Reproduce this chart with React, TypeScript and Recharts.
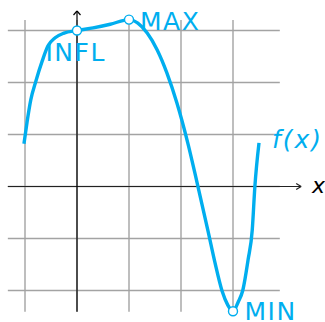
import { LineChart, Line, XAxis, YAxis, ReferenceLine, ReferenceDot } from 'recharts'

// f(x) sampled along the curve
const curveX = [-1.02, -0.96, -0.89, -0.79, -0.67, -0.56, -0.42, -0.25, 0, 0.31, 0.64, 1.0, 1.17, 1.35, 1.54, 1.73, 1.92, 2.13, 2.31, 2.52, 2.65, 2.79, 2.9, 3.0, 3.1, 3.19, 3.29, 3.37, 3.42, 3.5]
const curveY = [0.82, 1.24, 1.66, 2.03, 2.41, 2.7, 2.86, 2.95, 3.0, 3.05, 3.12, 3.21, 3.14, 2.95, 2.63, 2.18, 1.61, 0.84, 0.07, -0.86, -1.45, -2.01, -2.28, -2.4, -2.22, -1.99, -1.41, -0.84, -0.01, 0.84]

// stationary / inflection points
const pointNames = ['INFL', 'MAX', 'MIN']
const pointX = [0, 1, 3]
const pointY = [3.0, 3.21, -2.4]

const gridX = [-1, 0, 1, 2, 3]
const gridY = [-2, -1, 0, 1, 2, 3]

const data = curveX.map((x, i) => ({ x, y: curveY[i] }))

const W = 325
const H = 322
// 52px per unit, origin at (77, 186.5)
const UNIT = 52
const OX = 77
const OY = 186.5
const xDomain = [-OX / UNIT, (W - OX) / UNIT]
const yDomain = [(OY - H) / UNIT, OY / UNIT]

const GRID_LEFT = -1.33
const GRID_RIGHT = 3.9
const GRID_TOP = 3.2
const GRID_BOTTOM = -2.41
const AXIS_X_END = 4.31
const AXIS_Y_END = 3.375

const BLUE = '#00aeef'
const GRID = '#a3a3a3'
const FONT = '"DejaVu Sans", sans-serif'

const labelOffsets: Record<string, [number, number]> = {
  INFL: [-31.5, 30.5],
  MAX: [11, 10.5],
  MIN: [11.5, 8.5],
}

function textLabel(text: string, dx: number, dy: number, extra: Record<string, any>) {
  return (props: any) => {
    const vb = props.viewBox ?? { x: 0, y: 0, width: 0, height: 0 }
    const cx = vb.x + (vb.width ?? 0) / 2
    const cy = vb.y + (vb.height ?? 0) / 2
    return (
      <text x={cx + dx} y={cy + dy} fontFamily={FONT} {...extra}>
        {text}
      </text>
    )
  }
}

export default function App() {
  return (
    <div style={{ width: W, height: H }}>
      <style>{'body{margin:0}'}</style>
      <LineChart width={W} height={H} data={data} margin={{ top: 0, right: 0, bottom: 0, left: 0 }}>
        <XAxis type="number" dataKey="x" domain={xDomain} allowDataOverflow hide />
        <YAxis type="number" domain={yDomain} allowDataOverflow hide />

        {gridY.map(v => (
          <ReferenceLine key={'gy' + v} segment={[{ x: GRID_LEFT, y: v }, { x: GRID_RIGHT, y: v }]} stroke={GRID} strokeWidth={1.4} />
        ))}
        {gridX.map(v => (
          <ReferenceLine key={'gx' + v} segment={[{ x: v, y: GRID_BOTTOM }, { x: v, y: GRID_TOP }]} stroke={GRID} strokeWidth={1.4} />
        ))}

        {/* axes with arrow heads */}
        <ReferenceLine segment={[{ x: GRID_LEFT, y: 0 }, { x: AXIS_X_END, y: 0 }]} stroke="#222" strokeWidth={1.2} />
        <ReferenceLine segment={[{ x: AXIS_X_END - 0.095, y: 0.058 }, { x: AXIS_X_END, y: 0 }]} stroke="#222" strokeWidth={1.2} />
        <ReferenceLine segment={[{ x: AXIS_X_END - 0.095, y: -0.058 }, { x: AXIS_X_END, y: 0 }]} stroke="#222" strokeWidth={1.2} />
        <ReferenceLine segment={[{ x: 0, y: GRID_BOTTOM }, { x: 0, y: AXIS_Y_END }]} stroke="#000" strokeWidth={1.2} />
        <ReferenceLine segment={[{ x: -0.067, y: AXIS_Y_END - 0.077 }, { x: 0, y: AXIS_Y_END }]} stroke="#000" strokeWidth={1.2} />
        <ReferenceLine segment={[{ x: 0.067, y: AXIS_Y_END - 0.077 }, { x: 0, y: AXIS_Y_END }]} stroke="#000" strokeWidth={1.2} />

        <ReferenceDot
          x={AXIS_X_END}
          y={0}
          r={0}
          fill="none"
          stroke="none"
          label={textLabel('x', 11, 6.5, { fontSize: 22, fontStyle: 'italic', fill: '#000' })}
        />

        <Line type="monotone" dataKey="y" stroke={BLUE} strokeWidth={3.4} dot={false} activeDot={false} isAnimationActive={false} />

        <ReferenceDot
          x={curveX[curveX.length - 1]}
          y={curveY[curveY.length - 1]}
          r={0}
          fill="none"
          stroke="none"
          label={textLabel('f(x)', 13, 5, { fontSize: 25, fontStyle: 'italic', fill: BLUE, style: { letterSpacing: 2 } })}
        />

        {pointNames.map((name, i) => (
          <ReferenceDot
            key={name}
            x={pointX[i]}
            y={pointY[i]}
            r={4.5}
            fill="#fff"
            stroke={BLUE}
            strokeWidth={1.4}
            label={textLabel(name, labelOffsets[name][0], labelOffsets[name][1], {
              fontSize: 25,
              fill: BLUE,
              style: { letterSpacing: 1.5 },
            })}
          />
        ))}
      </LineChart>
    </div>
  )
}
